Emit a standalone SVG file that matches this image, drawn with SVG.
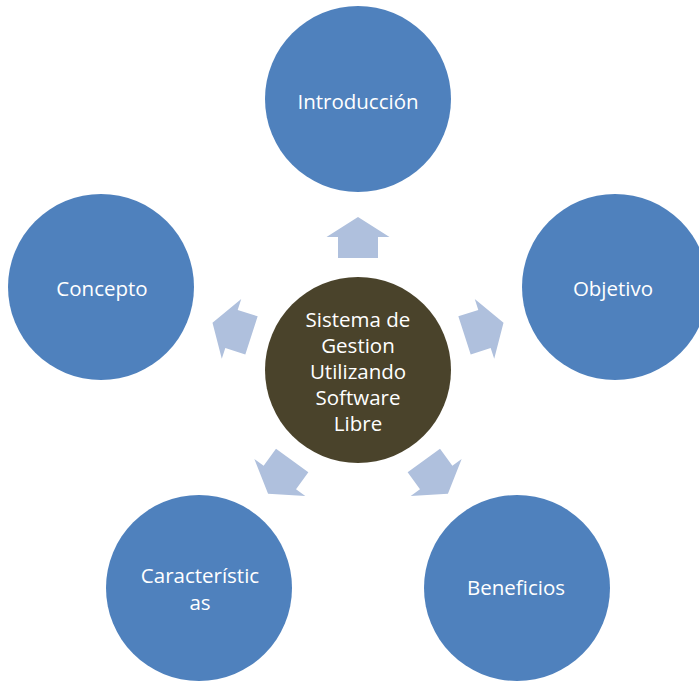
<svg xmlns="http://www.w3.org/2000/svg" width="699" height="682" viewBox="0 0 699 682">
  <defs>
    <style>
      .outer { fill: #4F81BD; }
      .hub { fill: #4A432B; }
      .arrow { fill: #AFC0DD; }
      .lbl { font-family: "Open Sans", "Noto Sans", "Liberation Sans", sans-serif; font-size: 20.5px; fill: #FFFFFF; text-anchor: middle; }
    </style>
    <!-- block arrow pointing up, positioned relative to the hub centre -->
    <path id="blockArrow" d="M -20 -112 L 20 -112 L 20 -133 L 31.5 -133 L 0 -153 L -31.5 -133 L -20 -133 Z"/>
  </defs>
  <rect width="699" height="682" fill="#FFFFFF"/>

  <g id="connectors" class="arrow" transform="translate(358 370)">
    <use href="#blockArrow"/>
    <use href="#blockArrow" transform="rotate(72)"/>
    <use href="#blockArrow" transform="rotate(144)"/>
    <use href="#blockArrow" transform="rotate(-144)"/>
    <use href="#blockArrow" transform="rotate(-72)"/>
  </g>

  <g id="hub">
    <circle class="hub" cx="358" cy="370" r="93"/>
    <text class="lbl" x="358" y="327">Sistema de</text>
    <text class="lbl" x="358" y="353">Gestion</text>
    <text class="lbl" x="358" y="379">Utilizando</text>
    <text class="lbl" x="358" y="405">Software</text>
    <text class="lbl" x="358" y="431">Libre</text>
  </g>

  <g id="introduccion">
    <circle class="outer" cx="358" cy="99" r="93"/>
    <text class="lbl" x="358" y="109">Introducción</text>
  </g>

  <g id="objetivo">
    <circle class="outer" cx="615" cy="287" r="93"/>
    <text class="lbl" x="613" y="296">Objetivo</text>
  </g>

  <g id="beneficios">
    <circle class="outer" cx="517" cy="588" r="93"/>
    <text class="lbl" x="516" y="595">Beneficios</text>
  </g>

  <g id="caracteristicas">
    <circle class="outer" cx="199" cy="588" r="93"/>
    <text class="lbl" x="200" y="583">Característic</text>
    <text class="lbl" x="200" y="610">as</text>
  </g>

  <g id="concepto">
    <circle class="outer" cx="101" cy="287" r="93"/>
    <text class="lbl" x="102" y="296">Concepto</text>
  </g>
</svg>
